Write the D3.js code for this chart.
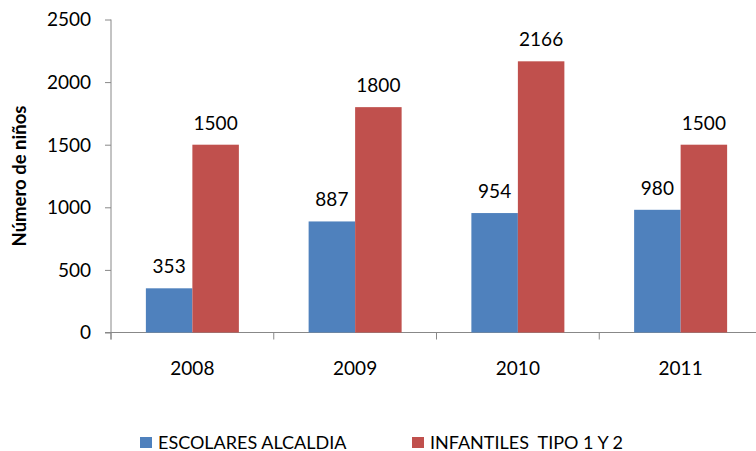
<!DOCTYPE html>
<html><head><meta charset="utf-8">
<script src="https://cdn.jsdelivr.net/npm/d3@7"></script>
<style>body{margin:0;background:#fff}svg{display:block}</style>
</head><body>
<script>
const categories = ["2008", "2009", "2010", "2011"];
const seriesNames = ["ESCOLARES ALCALDIA", "INFANTILES  TIPO 1 Y 2"];
const escolares = [353, 887, 954, 980];
const infantiles = [1500, 1800, 2166, 1500];
const yTicks = [0, 500, 1000, 1500, 2000, 2500];
const colors = ["#4F81BD", "#C0504D"];
const yTitle = "Número de niños";

const W = 756, H = 451;
const FONT = "Lato, 'Open Sans', sans-serif";
const svg = d3.select("body").append("svg").attr("width", W).attr("height", H);

const x0 = d3.scaleBand().domain(categories).range([111, 762]).padding(0);
const x1 = d3.scaleBand().domain([0, 1]).range([0, x0.bandwidth()]).paddingInner(0).paddingOuter(0.75);
const y = d3.scaleLinear().domain([0, 2500]).range([332.5, 19.5]);

const axisColor = "#888";

// Y axis
const yAxis = svg.append("g").attr("transform", "translate(111,0)")
  .call(d3.axisLeft(y).tickValues(yTicks).tickSize(6).tickPadding(14).tickFormat(d3.format("d")));
yAxis.select(".domain").attr("stroke", axisColor).attr("d", `M0,${y(2500)}V${y(0)+7}`);
yAxis.selectAll(".tick line").attr("stroke", axisColor);
yAxis.selectAll(".tick text").attr("font-family", FONT).attr("font-size", 19).attr("fill", "#000").attr("dy", "0.34em");

// X axis
const xg = svg.append("g").attr("transform", `translate(0,${y(0)})`);
xg.append("line").attr("x1", 105).attr("x2", W).attr("stroke", axisColor);
const bounds = categories.map(c => x0(c)).concat([x0.range()[1]]);
xg.selectAll("line.t").data(bounds).join("line").attr("class", "t")
  .attr("x1", d => d).attr("x2", d => d).attr("y1", 0).attr("y2", 7).attr("stroke", axisColor);
xg.selectAll("text").data(categories).join("text")
  .attr("x", d => x0(d) + x0.bandwidth() / 2).attr("y", 42)
  .attr("text-anchor", "middle").attr("font-family", FONT).attr("font-size", 19).text(d => d);

// Bars
const seriesData = [escolares, infantiles];
const groups = svg.selectAll("g.s").data(seriesData).join("g").attr("class", "s");
groups.each(function(vals, si) {
  const g = d3.select(this);
  g.selectAll("rect").data(vals).join("rect")
    .attr("x", (d, i) => x0(categories[i]) + x1(si))
    .attr("y", d => y(d))
    .attr("width", x1.bandwidth())
    .attr("height", d => y(0) - y(d))
    .attr("fill", colors[si]);
  g.selectAll("text").data(vals).join("text")
    .attr("x", (d, i) => x0(categories[i]) + x1(si) + x1.bandwidth() / 2)
    .attr("y", d => y(d) - 15)
    .attr("text-anchor", "middle").attr("font-family", FONT).attr("font-size", 19)
    .text(d => d);
});

// Y title
svg.append("text")
  .attr("transform", `translate(26,${(y(0) + y(2500)) / 2}) rotate(-90)`)
  .attr("text-anchor", "middle").attr("font-family", FONT).attr("font-weight", "bold")
  .attr("font-size", 18.5).text(yTitle);

// Legend
const legX = [140, 412];
const leg = svg.selectAll("g.leg").data(seriesNames).join("g").attr("class", "leg")
  .attr("transform", (d, i) => `translate(${legX[i]},437)`);
leg.append("rect").attr("width", 12).attr("height", 11).attr("fill", (d, i) => colors[i]);
leg.append("text").attr("x", 18).attr("y", 11.5).attr("font-family", FONT).attr("font-size", 18)
  .attr("xml:space", "preserve").style("white-space", "pre").text(d => d);
</script>
</body></html>
